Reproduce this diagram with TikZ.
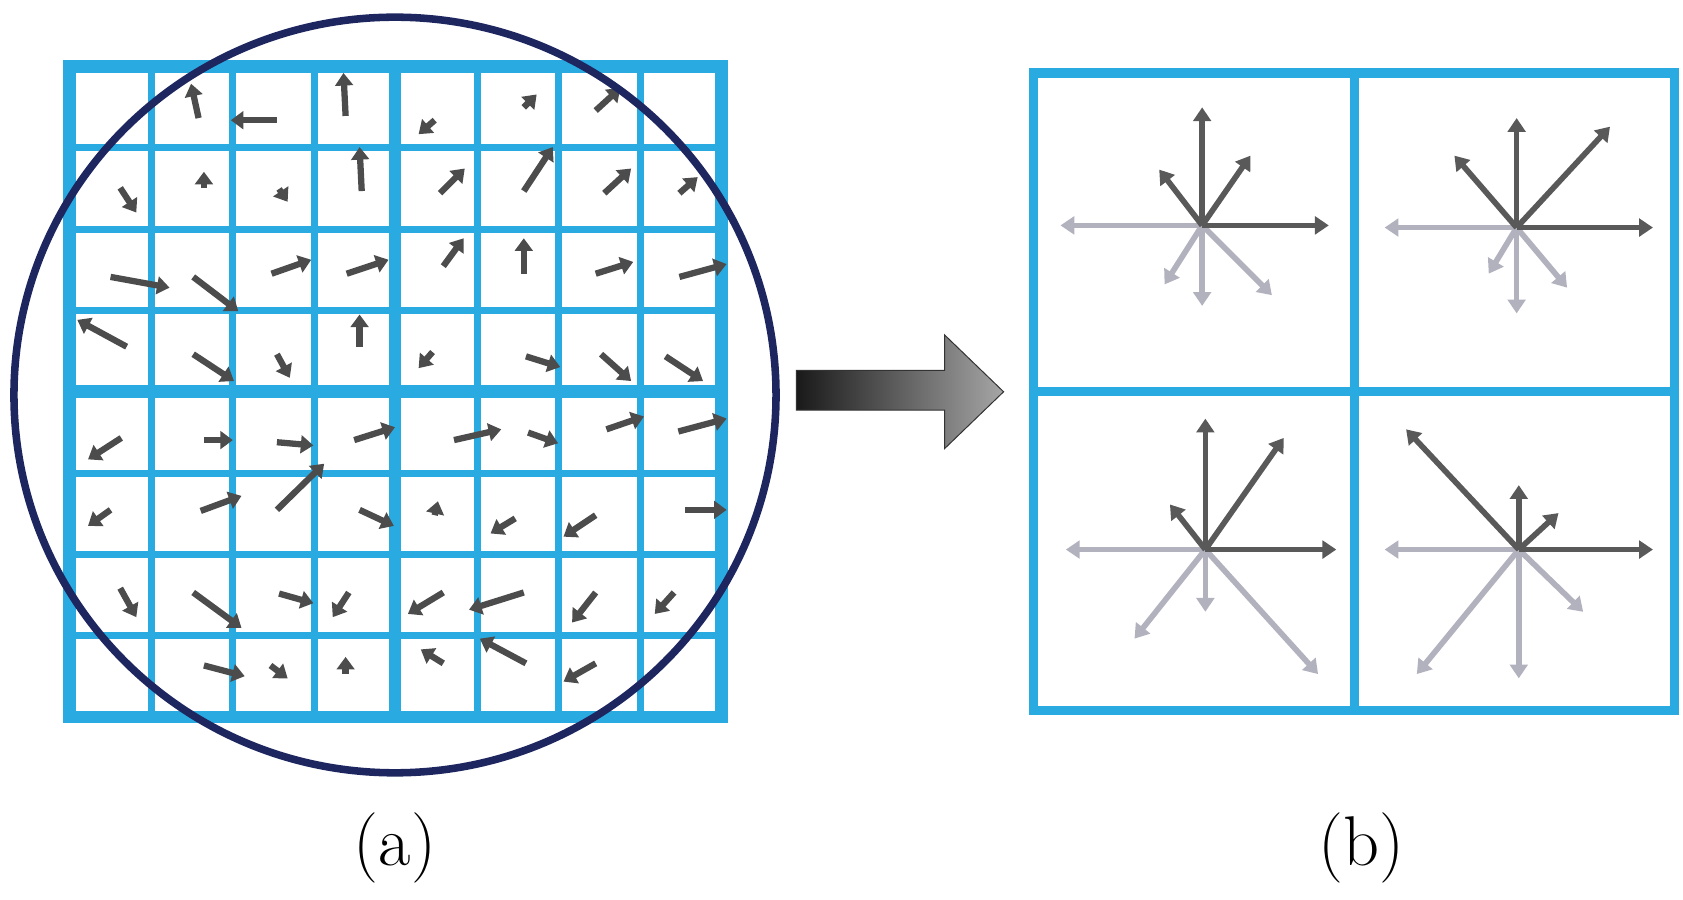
\documentclass[tikz,border=0pt]{standalone}
\usetikzlibrary{arrows.meta}
\definecolor{gridblue}{HTML}{29ABE2}
\definecolor{ringblue}{HTML}{1E2660}
\begin{document}
\begin{tikzpicture}[x=0.03cm,y=-0.03cm,%
% common options for the grid lines:
thin/.style = {gridblue, line width=5.5pt},
thick/.style = {gridblue, line width=10pt},
% common options for the small gradient arrows:
grad/.style = {draw=black!70, line width=5pt, -{Triangle[length=10pt,width=14pt]}},
% common options for the histogram arrows:
bindark/.style = {draw=black!65, line width=4.5pt, -{Triangle[length=11pt,width=14pt]}},
binlight/.style = {draw=blue!15!black!30, line width=4.5pt, -{Triangle[length=11pt,width=14pt]}}]
\useasboundingbox (0,0) rectangle (1568,838);
% grid (a)
\foreach \i in {1,2,3,5,6,7} {
  \draw[thin] (65+75.9*\i,62) -- (65+75.9*\i,668);
  \draw[thin] (65,62+75.75*\i) -- (672,62+75.75*\i);
}
\draw[thick] (368,62) -- (368,668);
\draw[thick] (65,365) -- (672,365);
\draw[thick] (65,62) rectangle (672,668);
% gradients
\foreach \xa/\ya/\xb/\yb in {185/110/178/78, 258/112/215/112, 322/108/320/68, 405/112/390/125,
  488/100/500/88, 555/103/578/82,
  112/175/127/198, 190/175/190/160, 260/176/268/188, 337/178/335/137, 410/180/433/157,
  488/178/515/137, 563/180/588/157, 633/180/650/165,
  103/258/158/268, 180/258/222/290, 253/255/290/242, 323/255/362/242, 413/248/432/222,
  488/255/488/222, 555/255/590/244, 633/258/677/246,
  118/323/72/298, 180/330/218/355, 258/330/270/352, 335/323/335/293, 403/328/390/343,
  490/332/522/342, 560/330/588/355, 620/332/655/355,
  113/408/82/428, 190/410/217/410, 258/412/292/415, 330/410/368/398, 423/410/467/400,
  492/403/520/413, 565/400/600/388, 632/402/677/390,
  103/475/82/490, 258/475/302/432, 187/476/225/462, 335/475/367/490, 405/480/408/467,
  480/483/457/497, 555/480/525/500, 638/475/677/475,
  112/548/127/575, 180/552/225/585, 260/553/292/562, 325/552/310/575, 413/552/380/572,
  488/552/437/568, 555/552/533/580, 628/552/610/572,
  190/620/228/630, 252/620/268/632, 322/628/322/612, 413/618/392/605, 490/618/447/595,
  555/618/525/635}
  \draw[grad] (\xa,\ya) -- (\xb,\yb);
% window
\draw[ringblue, line width=6pt] (368,368) ellipse (355 and 352);
% big arrow
\shade[left color=black!90, right color=black!35, draw=black!80, line width=0.8pt]
  (742,345) -- (880,345) -- (880,312) -- (935,365) -- (880,418) -- (880,382) -- (742,382) -- cycle;
% grid (b)
\draw[gridblue, line width=7.5pt] (963,68) rectangle (1560,662);
\draw[gridblue, line width=7.5pt] (1262,68) -- (1262,662);
\draw[gridblue, line width=7.5pt] (963,365) -- (1560,365);
% histograms
\foreach \cx/\cy/\ux/\uy/\rx/\lx/\dy/\ulx/\uly/\urx/\ury/\dlx/\dly/\drx/\dry in {
  1120/210/1120/100/1238/988/285/1080/158/1165/145/1085/265/1185/275,
  1413/212/1413/110/1540/1290/292/1355/145/1500/118/1387/255/1460/268,
  1123/512/1123/390/1245/993/570/1090/470/1196/408/1057/595/1228/628,
  1415/512/1415/452/1540/1290/632/1310/400/1452/478/1320/628/1475/570} {
  \draw[binlight] (\cx,\cy) -- (\lx,\cy);
  \draw[binlight] (\cx,\cy) -- (\cx,\dy);
  \draw[binlight] (\cx,\cy) -- (\dlx,\dly);
  \draw[binlight] (\cx,\cy) -- (\drx,\dry);
  \draw[bindark] (\cx,\cy) -- (\ux,\uy);
  \draw[bindark] (\cx,\cy) -- (\rx,\cy);
  \draw[bindark] (\cx,\cy) -- (\ulx,\uly);
  \draw[bindark] (\cx,\cy) -- (\urx,\ury);
}
% labels
\node[font=\fontsize{56}{64}\selectfont] (la) at (368,790) {(a)};
\node[font=\fontsize{56}{64}\selectfont] (lb) at (1268,790) {(b)};
\end{tikzpicture}
\end{document}
